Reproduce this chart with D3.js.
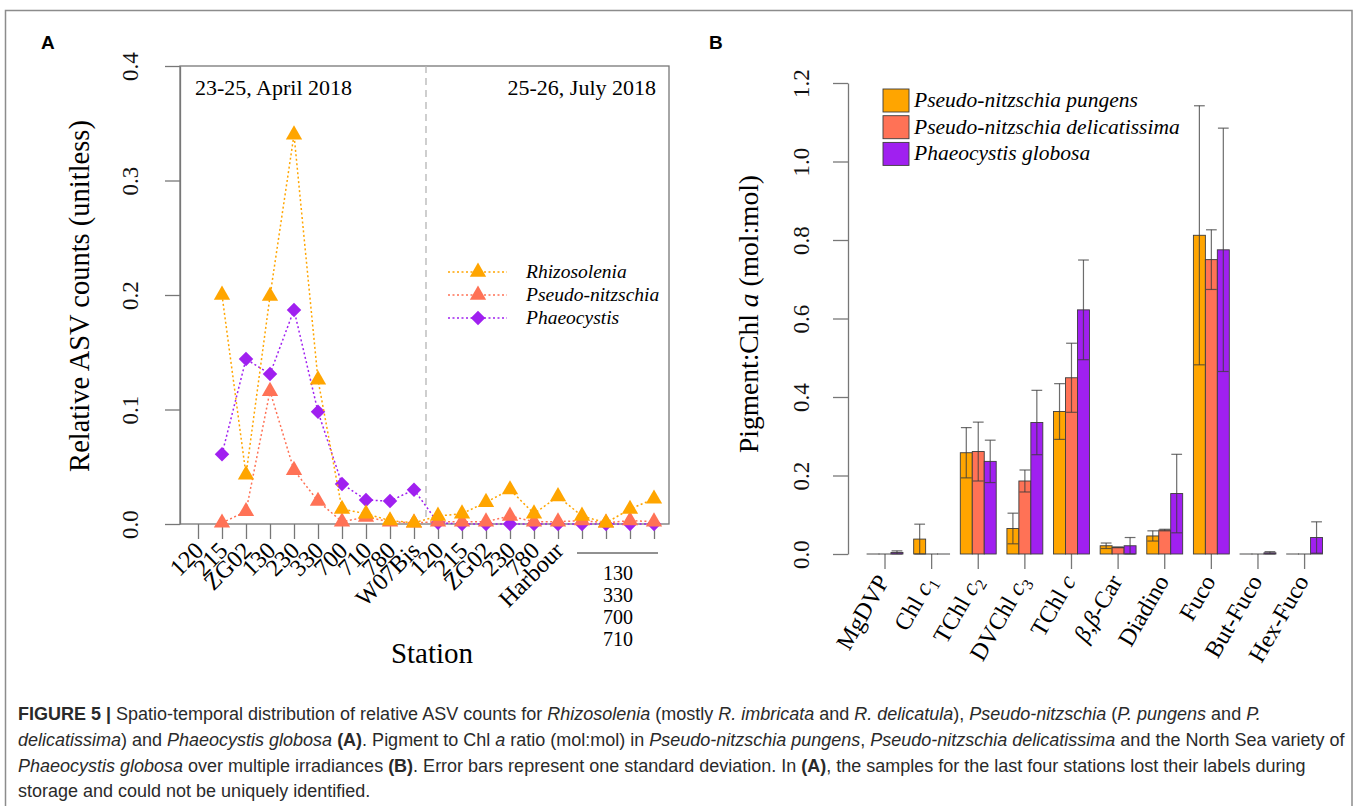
<!DOCTYPE html>
<html>
<head>
<meta charset="utf-8">
<script src="https://cdn.jsdelivr.net/npm/d3@7"></script>
<style>
  body { margin: 0; background: #fff; }
  svg { display: block; }
  text { white-space: pre; }
</style>
</head>
<body>
<div id="figure"></div>
<script>
// ---- panel A data: relative ASV counts per station ----
const aprilStations = ["120", "215", "ZG02", "130", "230", "330", "700", "710", "780", "W07Bis"];
const julyStations = ["120", "215", "ZG02", "230", "780", "Harbour"];
const unlabelledStations = ["130", "330", "700", "710"];
const rhizosolenia = [null, 0.200, 0.043, 0.199, 0.340, 0.126, 0.013, 0.009, 0.003, 0.001,
                      0.007, 0.009, 0.019, 0.030, 0.009, 0.024, 0.007, 0.001, 0.013, 0.022];
const pseudoNitzschia = [null, 0.001, 0.011, 0.116, 0.047, 0.020, 0.002, 0.006, 0.002, 0.001,
                         0.002, 0.002, 0.002, 0.007, 0.002, 0.002, 0.003, 0.001, 0.003, 0.002];
const phaeocystis = [null, 0.061, 0.144, 0.131, 0.187, 0.098, 0.035, 0.021, 0.020, 0.030,
                     0.001, 0.000, 0.000, 0.000, 0.000, 0.000, 0.000, 0.000, 0.000, 0.000];
const ticksA = [0, 0.1, 0.2, 0.3, 0.4];

// ---- panel B data: pigment to Chl a ratios ----
const pigments = ["MgDVP", "Chl c1", "TChl c2", "DVChl c3", "TChl c", "β,β-Car", "Diadino", "Fuco", "But-Fuco", "Hex-Fuco"];
const species = ["Pseudo-nitzschia pungens", "Pseudo-nitzschia delicatissima", "Phaeocystis globosa"];
const pungens = [0, 0.038, 0.258, 0.065, 0.363, 0.021, 0.046, 0.812, 0, 0];
const pungensSd = [0, 0.038, 0.064, 0.039, 0.071, 0.007, 0.013, 0.330, 0, 0];
const delicatissima = [0, 0, 0.261, 0.186, 0.449, 0.017, 0.061, 0.750, 0, 0];
const delicatissimaSd = [0, 0, 0.075, 0.028, 0.088, 0.001, 0.002, 0.076, 0, 0];
const globosa = [0.004, 0, 0.236, 0.335, 0.622, 0.021, 0.154, 0.775, 0.003, 0.042];
const globosaSd = [0.004, 0, 0.054, 0.082, 0.127, 0.021, 0.100, 0.310, 0.003, 0.040];
const ticksB = [0, 0.2, 0.4, 0.6, 0.8, 1.0, 1.2];

const serif = "'Liberation Serif', 'Times New Roman', serif";
const sans = "'Liberation Sans', Arial, sans-serif";
const axisGray = "#777";

const svg = d3.select("#figure").append("svg")
  .attr("width", 1358).attr("height", 806)
  .style("background", "#fff");

// outer frame of the figure
svg.append("rect")
  .attr("x", 5.5).attr("y", 10.5).attr("width", 1346.5).attr("height", 820)
  .attr("fill", "none").attr("stroke", "#8c8c8c").attr("stroke-width", 1.5);

svg.append("text").attr("x", 41).attr("y", 49).attr("font-family", sans)
  .attr("font-weight", "bold").attr("font-size", 19).text("A");
svg.append("text").attr("x", 709).attr("y", 49).attr("font-family", sans)
  .attr("font-weight", "bold").attr("font-size", 19).text("B");

function styleAxis(g) {
  g.attr("font-family", serif).attr("font-size", 23);
  g.selectAll("line, path").attr("stroke", axisGray).attr("stroke-width", 1.3);
  g.selectAll("text").attr("fill", "#111");
}

// ================= panel A =================
const stationLabels = aprilStations.concat(julyStations);
const nStations = stationLabels.length + unlabelledStations.length;
const xA = d3.scalePoint().domain(d3.range(nStations)).range([198, 654]);
const yA = d3.scaleLinear().domain([0, 0.4]).range([524, 66]);

const gA = svg.append("g");

gA.append("rect")
  .attr("x", 180).attr("y", 66).attr("width", 489).attr("height", 458)
  .attr("fill", "none").attr("stroke", axisGray).attr("stroke-width", 1.3);

const splitX = (xA(aprilStations.length - 1) + xA(aprilStations.length)) / 2;
gA.append("line")
  .attr("x1", splitX).attr("x2", splitX).attr("y1", 66).attr("y2", 524)
  .attr("stroke", "#b5b5b5").attr("stroke-width", 1.3).attr("stroke-dasharray", "7,5");

gA.append("text").attr("x", 195).attr("y", 95).attr("font-family", serif)
  .attr("font-size", 22).text("23-25, April 2018");
gA.append("text").attr("x", 656).attr("y", 95).attr("font-family", serif)
  .attr("font-size", 22).attr("text-anchor", "end").text("25-26, July 2018");

const gyA = gA.append("g").attr("transform", "translate(180,0)")
  .call(d3.axisLeft(yA).tickValues(ticksA).tickFormat(d3.format(".1f")).tickSize(15).tickSizeOuter(0));
styleAxis(gyA);
gyA.selectAll(".tick text")
  .attr("transform", "rotate(-90)").attr("x", 0).attr("y", -42).attr("dy", null)
  .attr("text-anchor", "middle");

const gxA = gA.append("g").attr("transform", "translate(0,524)")
  .call(d3.axisBottom(xA).tickSize(15).tickSizeOuter(0).tickFormat(""));
gxA.select(".domain").remove();
styleAxis(gxA);

gA.selectAll(".station-label")
  .data(stationLabels)
  .join("text")
  .attr("class", "station-label")
  .attr("font-family", serif).attr("font-size", 24).attr("text-anchor", "end")
  .attr("transform", (d, i) => `translate(${xA(i) + 7},${552}) rotate(-45)`)
  .text(d => d);

// stations whose labels were lost: listed under a rule
const lostIdx = d3.range(stationLabels.length, nStations);
const lostMid = (xA(lostIdx[0]) + xA(lostIdx[lostIdx.length - 1])) / 2;
gA.append("line")
  .attr("x1", xA(lostIdx[0]) - 5).attr("x2", xA(lostIdx[lostIdx.length - 1]) + 4)
  .attr("y1", 553).attr("y2", 553).attr("stroke", "#222").attr("stroke-width", 1);
gA.selectAll(".lost-label")
  .data(unlabelledStations)
  .join("text")
  .attr("class", "lost-label")
  .attr("font-family", serif).attr("font-size", 20).attr("text-anchor", "middle")
  .attr("x", lostMid).attr("y", (d, i) => 580 + i * 22)
  .text(d => d);

gA.append("text").attr("x", 432).attr("y", 663).attr("font-family", serif)
  .attr("font-size", 29).attr("text-anchor", "middle").text("Station");
gA.append("text")
  .attr("transform", "translate(89,296) rotate(-90)")
  .attr("font-family", serif).attr("font-size", 28.5).attr("text-anchor", "middle")
  .text("Relative ASV counts (unitless)");

const seriesA = [
  { name: "Rhizosolenia", values: rhizosolenia, color: "#FFA500", shape: "triangle" },
  { name: "Pseudo-nitzschia", values: pseudoNitzschia, color: "#FF7256", shape: "triangle" },
  { name: "Phaeocystis", values: phaeocystis, color: "#A020F0", shape: "diamond" }
];
const triPath = d3.symbol().type(d3.symbolTriangle).size(115)();
const diaPath = d3.symbol().type(d3.symbolSquare).size(105)();
const markerPath = s => s.shape === "triangle" ? triPath : diaPath;
const markerRot = s => s.shape === "triangle" ? "" : " rotate(45)";

const line = d3.line()
  .defined(d => d != null)
  .x((d, i) => xA(i))
  .y(d => yA(d));

// draw back to front: Phaeocystis, Pseudo-nitzschia, Rhizosolenia
seriesA.slice().reverse().forEach(s => {
  const g = gA.append("g");
  g.append("path")
    .attr("d", line(s.values))
    .attr("fill", "none").attr("stroke", s.color).attr("stroke-width", 1.5)
    .attr("stroke-dasharray", "2,2.5");
  g.selectAll("path.pt")
    .data(s.values.map((v, i) => ({ v, i })).filter(d => d.v != null))
    .join("path")
    .attr("class", "pt")
    .attr("d", markerPath(s))
    .attr("transform", d => `translate(${xA(d.i)},${yA(d.v)})${markerRot(s)}`)
    .attr("fill", s.color);
});

const legA = gA.append("g");
seriesA.forEach((s, i) => {
  const y = 272 + i * 23;
  legA.append("line").attr("x1", 448).attr("x2", 507).attr("y1", y).attr("y2", y)
    .attr("stroke", s.color).attr("stroke-width", 1.5).attr("stroke-dasharray", "2,2.5");
  legA.append("path").attr("d", markerPath(s))
    .attr("transform", `translate(478,${y})${markerRot(s)}`).attr("fill", s.color);
  legA.append("text").attr("x", 526).attr("y", y + 6)
    .attr("font-family", serif).attr("font-style", "italic").attr("font-size", 19.5)
    .text(s.name);
});

// ================= panel B =================
const seriesB = [
  { name: species[0], values: pungens, sd: pungensSd, color: "#FFA500" },
  { name: species[1], values: delicatissima, sd: delicatissimaSd, color: "#FF7256" },
  { name: species[2], values: globosa, sd: globosaSd, color: "#A020F0" }
];

const yB = d3.scaleLinear().domain([0, 1.2]).range([554, 83]);
const xB = d3.scaleBand().domain(pigments).range([861.7, 1327.9])
  .paddingInner(0.23).paddingOuter(0.115);
const xSub = d3.scaleBand().domain(species).range([0, xB.bandwidth()]);

const gB = svg.append("g");

const gyB = gB.append("g").attr("transform", "translate(848,0)")
  .call(d3.axisLeft(yB).tickValues(ticksB).tickFormat(d3.format(".1f")).tickSize(15).tickSizeOuter(0));
styleAxis(gyB);
gyB.selectAll(".tick text")
  .attr("transform", "rotate(-90)").attr("x", 0).attr("y", -39).attr("dy", null)
  .attr("text-anchor", "middle");

gB.selectAll(".xtick")
  .data(pigments)
  .join("line")
  .attr("class", "xtick")
  .attr("x1", d => xB(d) + xB.bandwidth() / 2).attr("x2", d => xB(d) + xB.bandwidth() / 2)
  .attr("y1", 554).attr("y2", 569)
  .attr("stroke", axisGray).attr("stroke-width", 1.3);

// pigment labels with italic c / subscripts and italic beta
function pigmentLabel(sel, name) {
  const m = name.match(/^(.*) c(\d?)$/);
  if (m) {
    sel.append("tspan").text(m[1] + " ");
    sel.append("tspan").attr("font-style", "italic").text("c");
    if (m[2]) sel.append("tspan").attr("font-size", 16).attr("dy", 5).text(m[2]);
    return;
  }
  name.split(/(β)/).filter(t => t !== "").forEach(t => {
    const sp = sel.append("tspan").text(t);
    if (t === "β") sp.attr("font-style", "italic");
  });
}

gB.selectAll(".pig-label")
  .data(pigments)
  .join("text")
  .attr("class", "pig-label")
  .attr("font-family", serif).attr("font-size", 24).attr("text-anchor", "end")
  .attr("transform", d => `translate(${xB(d) + xB.bandwidth() / 2 + 5},${581}) rotate(-60)`)
  .each(function (d) { pigmentLabel(d3.select(this), d); });

seriesB.forEach(s => {
  const g = gB.append("g");
  g.selectAll("rect")
    .data(pigments.map((p, i) => ({ p, v: s.values[i], sd: s.sd[i] })))
    .join("rect")
    .attr("x", d => xB(d.p) + xSub(s.name))
    .attr("y", d => yB(d.v))
    .attr("width", xSub.bandwidth())
    .attr("height", d => Math.max(yB(0) - yB(d.v), 0.01))
    .attr("fill", s.color).attr("stroke", "#3c3c3c").attr("stroke-width", 0.9);
});

seriesB.forEach(s => {
  const g = gB.append("g").attr("stroke", "rgba(60,60,60,0.75)").attr("stroke-width", 1.2);
  const eb = pigments.map((p, i) => ({ p, v: s.values[i], sd: s.sd[i] })).filter(d => d.sd > 0);
  const cx = d => xB(d.p) + xSub(s.name) + xSub.bandwidth() / 2;
  const cap = xSub.bandwidth() * 0.45;
  g.selectAll(".stem").data(eb).join("line").attr("class", "stem")
    .attr("x1", cx).attr("x2", cx)
    .attr("y1", d => yB(d.v - d.sd)).attr("y2", d => yB(d.v + d.sd));
  g.selectAll(".cap-hi").data(eb).join("line").attr("class", "cap-hi")
    .attr("x1", d => cx(d) - cap).attr("x2", d => cx(d) + cap)
    .attr("y1", d => yB(d.v + d.sd)).attr("y2", d => yB(d.v + d.sd));
  g.selectAll(".cap-lo").data(eb).join("line").attr("class", "cap-lo")
    .attr("x1", d => cx(d) - cap).attr("x2", d => cx(d) + cap)
    .attr("y1", d => yB(d.v - d.sd)).attr("y2", d => yB(d.v - d.sd));
});

const yTitleB = gB.append("text")
  .attr("transform", "translate(758,314) rotate(-90)")
  .attr("font-family", serif).attr("font-size", 27.5).attr("text-anchor", "middle");
yTitleB.append("tspan").text("Pigment:Chl ");
yTitleB.append("tspan").attr("font-style", "italic").text("a");
yTitleB.append("tspan").text(" (mol:mol)");

const legB = gB.append("g");
seriesB.forEach((s, i) => {
  const y = 89 + i * 26.7;
  legB.append("rect").attr("x", 883).attr("y", y).attr("width", 26).attr("height", 23)
    .attr("fill", s.color).attr("stroke", "#3c3c3c").attr("stroke-width", 0.9);
  legB.append("text").attr("x", 914).attr("y", y + 18)
    .attr("font-family", serif).attr("font-style", "italic").attr("font-size", 21.5)
    .text(s.name);
});

// ================= caption =================
const captionLines = [
  { w: 1284, parts: [["FIGURE 5 | ", "b"], ["Spatio-temporal distribution of relative ASV counts for "], ["Rhizosolenia", "i"],
    [" (mostly "], ["R. imbricata", "i"], [" and "], ["R. delicatula", "i"], ["), "], ["Pseudo-nitzschia", "i"],
    [" ("], ["P. pungens", "i"], [" and "], ["P.", "i"]] },
  { w: 1318, parts: [["delicatissima", "i"], [") and "], ["Phaeocystis globosa", "i"], [" "], ["(A)", "b"],
    [". Pigment to Chl "], ["a", "i"], [" ratio (mol:mol) in "], ["Pseudo-nitzschia pungens", "i"], [", "],
    ["Pseudo-nitzschia delicatissima", "i"], [" and the North Sea variety of"]] },
  { w: 1253, parts: [["Phaeocystis globosa", "i"], [" over multiple irradiances "], ["(B)", "b"],
    [". Error bars represent one standard deviation. In "], ["(A)", "b"],
    [", the samples for the last four stations lost their labels during"]] },
  { w: null, parts: [["storage and could not be uniquely identified."]] }
];
// the caption face is condensed: squeeze every line by one common factor
const capTexts = captionLines.map(ln => {
  const t = svg.append("text")
    .attr("font-family", sans).attr("font-size", 18.5).attr("fill", "#2a2a2a");
  ln.parts.forEach(([txt, st]) => {
    const sp = t.append("tspan").text(txt);
    if (st === "b") sp.attr("font-weight", "bold");
    if (st === "i") sp.attr("font-style", "italic");
  });
  return t;
});
const squeeze = d3.mean(captionLines.filter(ln => ln.w),
  (ln, i) => ln.w / capTexts[i].node().getComputedTextLength());
capTexts.forEach((t, i) => {
  t.attr("transform", `translate(18,${720 + i * 25.8}) scale(${squeeze},1)`);
});
</script>
</body>
</html>
